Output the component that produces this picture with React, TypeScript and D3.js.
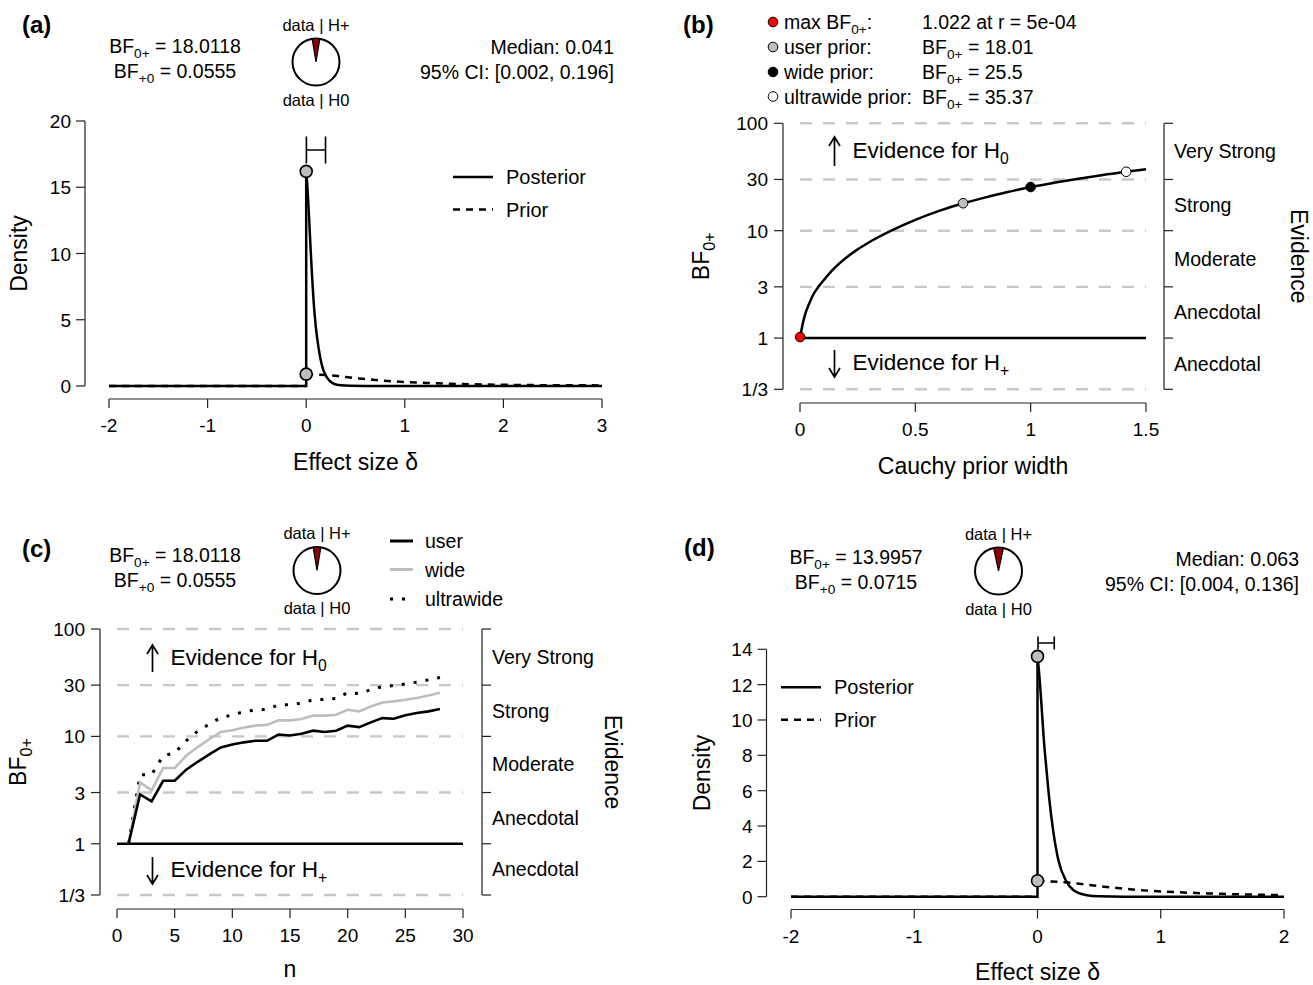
import React from 'react';
import * as d3 from 'd3';

const FONT = '"Liberation Sans", Arial, Helvetica, sans-serif';
const W = 1313;
const H = 985;

// ---------- Panel (a): prior & posterior ----------
const deltaTicksA = [-2, -1, 0, 1, 2, 3];
const densityTicksA = [0, 5, 10, 15, 20];
const postDeltaA = [0, 0.01, 0.02, 0.03, 0.045, 0.058, 0.075, 0.097, 0.125, 0.155, 0.19, 0.233, 0.28, 0.35, 0.45, 0.6, 1, 2, 3];
const postDensA = [16.2, 15.3, 14.0, 12.6, 10.3, 8.5, 6.4, 4.5, 2.9, 1.7, 0.9, 0.43, 0.17, 0.05, 0.01, 0, 0, 0, 0];
const priorDelta = [0, 0.25, 0.5, 0.75, 1, 1.25, 1.5, 2, 2.5, 3];
const priorDens = [0.9, 0.8, 0.6, 0.42, 0.3, 0.22, 0.16, 0.09, 0.06, 0.045];
const ciA = [0.002, 0.196];
const bfTextA = ['18.0118', '0.0555'];
const bfPlus0A = 0.0555;
const summaryA = ['Median: 0.041', '95% CI: [0.002, 0.196]'];

// ---------- Panel (b): robustness ----------
const widthTicksB = [0, 0.5, 1, 1.5];
const widthTickLabelsB = ['0', '0.5', '1', '1.5'];
const bfTicks = [1 / 3, 1, 3, 10, 30, 100];
const bfTickLabels = ['1/3', '1', '3', '10', '30', '100'];
const bfBounds = [100, 30, 10, 3, 1, 1 / 3];
const evidenceLabels = ['Very Strong', 'Strong', 'Moderate', 'Anecdotal', 'Anecdotal'];
const priorWidthB = [0, 0.01, 0.02, 0.04, 0.06, 0.08, 0.1, 0.15, 0.2, 0.25, 0.3, 0.4, 0.5, 0.6, 0.707, 0.8, 0.9, 1.0, 1.1, 1.2, 1.3, 1.414, 1.5];
const bfRobustB = [1.0, 1.3, 1.6, 2.1, 2.6, 3.0, 3.4, 4.5, 5.6, 6.7, 7.8, 10.1, 12.6, 15.2, 18.0, 20.3, 22.9, 25.5, 27.9, 30.3, 32.7, 35.4, 37.3];
const markerWidthB = [0.0005, 0.707, 1, 1.414];
const markerBfB = [1.022, 18.01, 25.5, 35.37];
const markerFillB = ['#ff0000', '#bebebe', '#000000', '#ffffff'];
const legendLabelB = ['max BF', 'user prior:', 'wide prior:', 'ultrawide prior:'];
const legendValueB = ['1.022 at r = 5e-04', '18.01', '25.5', '35.37'];

// ---------- Panel (c): sequential ----------
const nTicksC = [0, 5, 10, 15, 20, 25, 30];
const nC = [1, 2, 3, 4, 5, 6, 7, 8, 9, 10, 11, 12, 13, 14, 15, 16, 17, 18, 19, 20, 21, 22, 23, 24, 25, 26, 27, 28];
const userC = [1, 2.88, 2.48, 3.86, 3.86, 4.9, 5.8, 6.8, 7.9, 8.4, 8.8, 9.1, 9.1, 10.4, 10.2, 10.6, 11.3, 11.0, 11.3, 12.6, 12.2, 13.5, 14.8, 14.6, 15.7, 16.5, 17.1, 18.01];
const wideC = [1, 3.73, 3.14, 5.07, 5.07, 6.6, 7.95, 9.4, 11.0, 11.4, 12.1, 12.6, 12.8, 14.1, 14.1, 14.5, 15.6, 15.6, 15.9, 17.7, 17.1, 19.0, 20.7, 21.2, 21.9, 22.8, 24.0, 25.5];
const ultraC = [1, 4.4, 4.4, 6.6, 7.0, 9.1, 11.2, 13.0, 15.0, 15.8, 17.0, 17.6, 17.9, 19.6, 19.7, 20.4, 21.9, 22.1, 22.6, 25.5, 25.0, 27.2, 29.0, 29.8, 30.8, 32.0, 33.6, 35.37];
const bfTextC = ['18.0118', '0.0555'];
const bfPlus0C = 0.0555;
const legendC = ['user', 'wide', 'ultrawide'];

// ---------- Panel (d): prior & posterior ----------
const deltaTicksD = [-2, -1, 0, 1, 2];
const densityTicksD = [0, 2, 4, 6, 8, 10, 12, 14];
const postDeltaD = [0, 0.01, 0.03, 0.05, 0.07, 0.096, 0.13, 0.17, 0.23, 0.29, 0.39, 0.5, 0.7, 1, 2];
const postDensD = [13.6, 12.9, 11.1, 9.0, 7.4, 5.5, 3.6, 2.05, 0.92, 0.38, 0.1, 0.02, 0, 0, 0];
const ciD = [0.004, 0.136];
const bfTextD = ['13.9957', '0.0715'];
const bfPlus0D = 0.0715;
const summaryD = ['Median: 0.063', '95% CI: [0.004, 0.136]'];

const AX = '#222';
const GRID = '#c8c8c8';
const WIDE = '#bebebe';
const PT = '#bebebe';

type Part = { t: string; sub?: boolean };

function Rich({ x, y, parts, anchor = 'start', size = 19.5, rotate }: { x: number; y: number; parts: Part[]; anchor?: string; size?: number; rotate?: number }) {
  let cur = 0;
  const shift = size * 0.28;
  const transform = rotate ? `rotate(${rotate},${x},${y})` : undefined;
  return (
    <text x={x} y={y} textAnchor={anchor as any} fontSize={size} fontFamily={FONT} transform={transform} fill="#000">
      {parts.map((p, i) => {
        const target = p.sub ? shift : 0;
        const dy = target - cur;
        cur = target;
        return (
          <tspan key={i} dy={dy} fontSize={p.sub ? size * 0.7 : size}>
            {p.t}
          </tspan>
        );
      })}
    </text>
  );
}

function T({ x, y, children, anchor = 'start', size = 19.5, rotate, weight }: any) {
  const transform = rotate ? `rotate(${rotate},${x},${y})` : undefined;
  return (
    <text x={x} y={y} textAnchor={anchor} fontSize={size} fontFamily={FONT} fontWeight={weight} transform={transform} fill="#000">
      {children}
    </text>
  );
}

function Arrow({ x, y1, y2 }: { x: number; y1: number; y2: number }) {
  const dir = Math.sign(y1 - y2);
  return (
    <path
      d={`M${x},${y1}L${x},${y2}M${x - 5.5},${y2 + dir * 9}L${x},${y2}L${x + 5.5},${y2 + dir * 9}`}
      stroke="#000"
      strokeWidth={1.7}
      fill="none"
    />
  );
}

function Pie({ cx, cy, r, p }: { cx: number; cy: number; r: number; p: number }) {
  const a = p * 2 * Math.PI;
  const arc = d3.arc()({ innerRadius: 0, outerRadius: r, startAngle: -a / 2, endAngle: a / 2 } as any) || '';
  return (
    <g>
      <circle cx={cx} cy={cy} r={r} fill="#fff" stroke="#000" strokeWidth={2} />
      <path d={arc} transform={`translate(${cx},${cy})`} fill="#8b0000" stroke="#000" strokeWidth={1.2} />
      <T x={cx} y={cy - r - 8} anchor="middle" size={16.5}>data | H+</T>
      <T x={cx} y={cy + r + 20} anchor="middle" size={16.5}>data | H0</T>
    </g>
  );
}

function BFText({ cx, y1, y2, vals }: { cx: number; y1: number; y2: number; vals: string[] }) {
  return (
    <g>
      <Rich x={cx} y={y1} anchor="middle" parts={[{ t: 'BF' }, { t: '0+', sub: true }, { t: ` = ${vals[0]}` }]} />
      <Rich x={cx} y={y2} anchor="middle" parts={[{ t: 'BF' }, { t: '+0', sub: true }, { t: ` = ${vals[1]}` }]} />
    </g>
  );
}

function DensityPanel(props: any) {
  const { x, y, yAxisX, xAxisY, xTicks, yTicks, postX, postY, ci, ciY, ciH, legendX, legendY, ylabX, titleY } = props;
  const lineLin = d3.line<[number, number]>().x((d) => x(d[0])).y((d) => y(d[1]));
  const lineMono = d3.line<[number, number]>().x((d) => x(d[0])).y((d) => y(d[1])).curve(d3.curveMonotoneX);
  const xmax = xTicks[xTicks.length - 1];
  const post = postX.map((v: number, i: number) => [v, postY[i]] as [number, number]).filter((d: any) => d[0] <= xmax);
  const prior = priorDelta.map((v, i) => [v, priorDens[i]] as [number, number]).filter((d) => d[0] <= xmax);
  const xmin = xTicks[0];
  const [x0, x1] = x.range();
  const [yb, yt] = [y(yTicks[0]), y(yTicks[yTicks.length - 1])];
  return (
    <g>
      <line x1={yAxisX} x2={yAxisX} y1={yb} y2={yt} stroke={AX} strokeWidth={1.2} />
      {yTicks.map((t: number) => (
        <g key={t}>
          <line x1={yAxisX - 9} x2={yAxisX} y1={y(t)} y2={y(t)} stroke={AX} strokeWidth={1.2} />
          <T x={yAxisX - 14} y={y(t) + 7} anchor="end" size={19}>{String(t)}</T>
        </g>
      ))}
      <line x1={x0} x2={x1} y1={xAxisY} y2={xAxisY} stroke={AX} strokeWidth={1.2} />
      {xTicks.map((t: number) => (
        <g key={t}>
          <line x1={x(t)} x2={x(t)} y1={xAxisY} y2={xAxisY + 9} stroke={AX} strokeWidth={1.2} />
          <T x={x(t)} y={xAxisY + 33} anchor="middle" size={19}>{String(t)}</T>
        </g>
      ))}
      <T x={ylabX} y={(yb + yt) / 2} anchor="middle" size={23} rotate={-90}>Density</T>
      <T x={(x0 + x1) / 2} y={titleY} anchor="middle" size={23}>Effect size δ</T>
      <path d={lineLin([[xmin, 0], [0, 0]]) || ''} fill="none" stroke="#000" strokeWidth={2.5} strokeDasharray="7,6" />
      <path d={lineMono(prior) || ''} fill="none" stroke="#000" strokeWidth={2.5} strokeDasharray="7,6" />
      <path d={lineLin([[xmin, 0], [0, 0], [0, postY[0]]]) || ''} fill="none" stroke="#000" strokeWidth={2.5} />
      <path d={lineMono(post) || ''} fill="none" stroke="#000" strokeWidth={2.5} />
      <circle cx={x(0)} cy={y(postY[0])} r={6} fill={PT} stroke="#000" strokeWidth={1.6} />
      <circle cx={x(0)} cy={y(priorDens[0])} r={6} fill={PT} stroke="#000" strokeWidth={1.6} />
      <path
        d={`M${x(ci[0])},${ciY}L${x(ci[1])},${ciY}M${x(ci[0])},${ciY - ciH}L${x(ci[0])},${ciY + ciH}M${x(ci[1])},${ciY - ciH}L${x(ci[1])},${ciY + ciH}`}
        stroke="#000"
        strokeWidth={1.6}
        fill="none"
      />
      <line x1={legendX} x2={legendX + 40} y1={legendY} y2={legendY} stroke="#000" strokeWidth={2.5} />
      <T x={legendX + 53} y={legendY + 7} size={20}>Posterior</T>
      <line x1={legendX} x2={legendX + 40} y1={legendY + 32.5} y2={legendY + 32.5} stroke="#000" strokeWidth={2.5} strokeDasharray="7,6" />
      <T x={legendX + 53} y={legendY + 39.5} size={20}>Prior</T>
    </g>
  );
}

function EvidenceFrame(props: any) {
  const { x, y, leftX, rightX, xAxisY, xTicks, xTickLabels, ylabX, evidX, xTitle, xTitleY, arrowX, upArrow, downArrow } = props;
  const [x0, x1] = x.range();
  const yb = y(1 / 3);
  const yt = y(100);
  const mids = evidenceLabels.map((_, i) => Math.sqrt(bfBounds[i] * bfBounds[i + 1]));
  return (
    <g>
      {bfBounds
        .filter((b) => b !== 1)
        .map((b) => (
          <line key={b} x1={x0} x2={x1} y1={y(b)} y2={y(b)} stroke={GRID} strokeWidth={2.4} strokeDasharray="12,11" />
        ))}
      <line x1={x0} x2={x1} y1={y(1)} y2={y(1)} stroke="#000" strokeWidth={2.5} />
      <line x1={leftX} x2={leftX} y1={yb} y2={yt} stroke={AX} strokeWidth={1.2} />
      {bfTicks.map((t, i) => (
        <g key={i}>
          <line x1={leftX - 9} x2={leftX} y1={y(t)} y2={y(t)} stroke={AX} strokeWidth={1.2} />
          <T x={leftX - 15} y={y(t) + 7} anchor="end" size={19}>{bfTickLabels[i]}</T>
        </g>
      ))}
      <line x1={rightX} x2={rightX} y1={yb} y2={yt} stroke={AX} strokeWidth={1.2} />
      {bfTicks.map((t, i) => (
        <line key={i} x1={rightX} x2={rightX + 9} y1={y(t)} y2={y(t)} stroke={AX} strokeWidth={1.2} />
      ))}
      {evidenceLabels.map((l, i) => (
        <T key={i} x={rightX + 10} y={y(mids[i]) + 7} size={19.5}>{l}</T>
      ))}
      <T x={evidX} y={(yb + yt) / 2} anchor="middle" size={23} rotate={90}>Evidence</T>
      <Rich x={ylabX} y={(yb + yt) / 2} anchor="middle" size={23} rotate={-90} parts={[{ t: 'BF' }, { t: '0+', sub: true }]} />
      <line x1={x0} x2={x1} y1={xAxisY} y2={xAxisY} stroke={AX} strokeWidth={1.2} />
      {xTicks.map((t: number, i: number) => (
        <g key={i}>
          <line x1={x(t)} x2={x(t)} y1={xAxisY} y2={xAxisY + 9} stroke={AX} strokeWidth={1.2} />
          <T x={x(t)} y={xAxisY + 33} anchor="middle" size={19}>{xTickLabels[i]}</T>
        </g>
      ))}
      <T x={(x0 + x1) / 2} y={xTitleY} anchor="middle" size={23}>{xTitle}</T>
      <Arrow x={arrowX} y1={upArrow[1]} y2={upArrow[0]} />
      <Rich x={arrowX + 18} y={(upArrow[0] + upArrow[1]) / 2 + 6} size={22.5} parts={[{ t: 'Evidence for H' }, { t: '0', sub: true }]} />
      <Arrow x={arrowX} y1={downArrow[0]} y2={downArrow[1]} />
      <Rich x={arrowX + 18} y={(downArrow[0] + downArrow[1]) / 2 + 6} size={22.5} parts={[{ t: 'Evidence for H' }, { t: '+', sub: true }]} />
    </g>
  );
}

function PanelA() {
  const x = d3.scaleLinear().domain([-2, 3]).range([109, 602]);
  const y = d3.scaleLinear().domain([0, 20]).range([386, 121]);
  return (
    <g>
      <T x={22} y={33} size={24} weight="bold">(a)</T>
      <BFText cx={175} y1={53} y2={78} vals={bfTextA} />
      <Pie cx={316} cy={62} r={23.5} p={bfPlus0A / (1 + bfPlus0A)} />
      <T x={614} y={54} anchor="end">{summaryA[0]}</T>
      <T x={614} y={79} anchor="end">{summaryA[1]}</T>
      <DensityPanel
        x={x}
        y={y}
        yAxisX={85}
        xAxisY={399}
        xTicks={deltaTicksA}
        yTicks={densityTicksA}
        postX={postDeltaA}
        postY={postDensA}
        ci={ciA}
        ciY={150}
        ciH={13.5}
        legendX={453}
        legendY={177}
        ylabX={27}
        titleY={470}
      />
    </g>
  );
}

function PanelB() {
  const x = d3.scaleLinear().domain([0, 1.5]).range([800, 1146]);
  const y = d3.scaleLog().domain([1 / 3, 100]).range([389.3, 123.3]);
  const line = d3.line<number>().x((d) => x(d)).y((_, i) => y(bfRobustB[i])).curve(d3.curveMonotoneX);
  const rows = [22, 47, 72, 96.5];
  return (
    <g>
      <T x={683} y={33} size={24} weight="bold">(b)</T>
      {rows.map((ry, i) => (
        <g key={i}>
          <circle cx={773} cy={ry} r={4.8} fill={markerFillB[i]} stroke="#000" strokeWidth={1} />
          {i === 0 ? (
            <Rich x={784} y={ry + 7} parts={[{ t: 'max BF' }, { t: '0+', sub: true }, { t: ':' }]} />
          ) : (
            <T x={784} y={ry + 7}>{legendLabelB[i]}</T>
          )}
          {i === 0 ? (
            <T x={922} y={ry + 7}>{legendValueB[i]}</T>
          ) : (
            <Rich x={922} y={ry + 7} parts={[{ t: 'BF' }, { t: '0+', sub: true }, { t: ` = ${legendValueB[i]}` }]} />
          )}
        </g>
      ))}
      <EvidenceFrame
        x={x}
        y={y}
        leftX={783}
        rightX={1164}
        xAxisY={403}
        xTicks={widthTicksB}
        xTickLabels={widthTickLabelsB}
        ylabX={709}
        evidX={1291}
        xTitle="Cauchy prior width"
        xTitleY={474}
        arrowX={834.5}
        upArrow={[137, 166]}
        downArrow={[350, 377]}
      />
      <path d={line(priorWidthB) || ''} fill="none" stroke="#000" strokeWidth={2.5} />
      {markerWidthB.map((w, i) => (
        <circle key={i} cx={x(w)} cy={y(markerBfB[i])} r={4.8} fill={markerFillB[i]} stroke="#000" strokeWidth={1} />
      ))}
    </g>
  );
}

function PanelC() {
  const x = d3.scaleLinear().domain([0, 30]).range([117, 463]);
  const y = d3.scaleLog().domain([1 / 3, 100]).range([895, 629]);
  const mk = (vals: number[]) => d3.line<number>().x((d) => x(d)).y((_, i) => y(vals[i]))(nC) || '';
  return (
    <g>
      <T x={22} y={557} size={24} weight="bold">(c)</T>
      <BFText cx={175} y1={562} y2={587} vals={bfTextC} />
      <Pie cx={317} cy={570.5} r={23.5} p={bfPlus0C / (1 + bfPlus0C)} />
      <line x1={390} x2={413} y1={541} y2={541} stroke="#000" strokeWidth={3} />
      <T x={425} y={548}>{legendC[0]}</T>
      <line x1={390} x2={413} y1={569.5} y2={569.5} stroke={WIDE} strokeWidth={3} />
      <T x={425} y={576.5}>{legendC[1]}</T>
      <line x1={390} x2={413} y1={599} y2={599} stroke="#000" strokeWidth={3} strokeDasharray="3,9" />
      <T x={425} y={606}>{legendC[2]}</T>
      <EvidenceFrame
        x={x}
        y={y}
        leftX={100}
        rightX={482}
        xAxisY={909}
        xTicks={nTicksC}
        xTickLabels={nTicksC.map(String)}
        ylabX={26}
        evidX={605}
        xTitle="n"
        xTitleY={977}
        arrowX={152.5}
        upArrow={[645, 672]}
        downArrow={[857, 884]}
      />
      <path d={mk(ultraC)} fill="none" stroke="#000" strokeWidth={3} strokeDasharray="3,9" />
      <path d={mk(wideC)} fill="none" stroke={WIDE} strokeWidth={2.6} />
      <path d={mk(userC)} fill="none" stroke="#000" strokeWidth={2.6} />
    </g>
  );
}

function PanelD() {
  const x = d3.scaleLinear().domain([-2, 2]).range([791, 1284]);
  const y = d3.scaleLinear().domain([0, 14]).range([896.7, 649.3]);
  return (
    <g>
      <T x={684} y={556} size={24} weight="bold">(d)</T>
      <BFText cx={856} y1={564} y2={589} vals={bfTextD} />
      <Pie cx={998.5} cy={571} r={23.5} p={bfPlus0D / (1 + bfPlus0D)} />
      <T x={1299} y={566} anchor="end">{summaryD[0]}</T>
      <T x={1299} y={591} anchor="end">{summaryD[1]}</T>
      <DensityPanel
        x={x}
        y={y}
        yAxisX={766.5}
        xAxisY={909.5}
        xTicks={deltaTicksD}
        yTicks={densityTicksD}
        postX={postDeltaD}
        postY={postDensD}
        ci={ciD}
        ciY={643}
        ciH={6.5}
        legendX={781}
        legendY={687.3}
        ylabX={710}
        titleY={980}
      />
    </g>
  );
}

export default function App() {
  return (
    <svg width={W} height={H} viewBox={`0 0 ${W} ${H}`} style={{ position: 'absolute', left: 0, top: 0, display: 'block', background: '#fff' }}>
      <rect width={W} height={H} fill="#fff" />
      <PanelA />
      <PanelB />
      <PanelC />
      <PanelD />
    </svg>
  );
}
